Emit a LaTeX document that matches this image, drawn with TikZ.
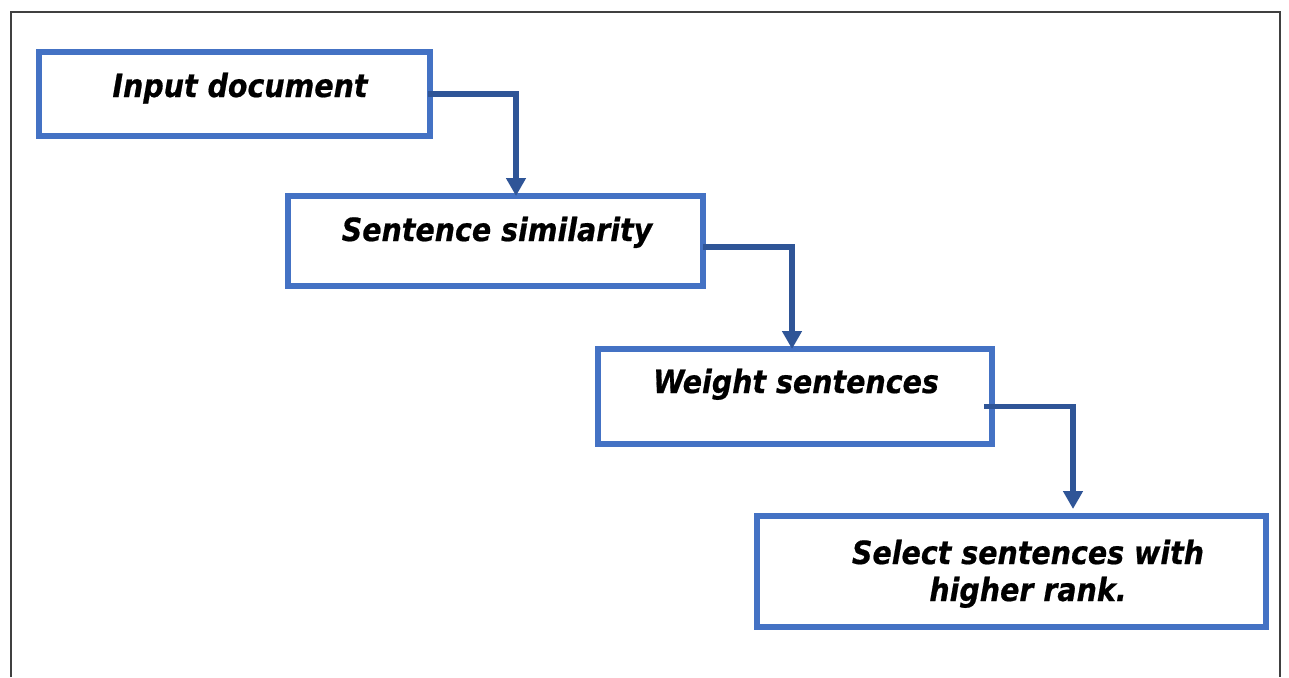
\documentclass[tikz,border=0pt]{standalone}
\usepackage{fontspec}
\setmainfont{DejaVu Sans}
\newfontfamily\labelfont{DejaVu Sans}[FakeStretch=0.89, FakeBold=0.6]
\usetikzlibrary{arrows.meta,calc}
\definecolor{boxblue}{HTML}{4472C4}
\definecolor{arrowblue}{HTML}{2F5597}
\definecolor{framegray}{HTML}{404040}
\tikzset{
  stepbox/.style={draw=boxblue, line width=6.5pt, fill=white, rectangle,
    outer sep=0pt, inner sep=0pt, anchor=north west},
  steptext/.style={anchor=base, font=\labelfont\fontsize{32}{37}\selectfont\bfseries\itshape,
    text=black, inner sep=0pt, align=center},
  flow/.style={draw=arrowblue, line width=5.5pt,
    -{Triangle[length=18pt,width=19pt]}},
  frameline/.style={draw=framegray, line width=2pt}
}
\begin{document}
\begin{tikzpicture}[x=1pt,y=-1pt]
  \useasboundingbox (0,0) rectangle (1289,677);
  % outer frame (open at the bottom)
  \coordinate (fbl) at (10.5,677);
  \coordinate (ftl) at (10.5,12);
  \coordinate (ftr) at (1280,12);
  \coordinate (fbr) at (1280,677);
  \draw[frameline] (fbl) -- (ftl) -- (ftr) -- (fbr);

  % process boxes
  \node[stepbox, minimum width=391pt, minimum height=84pt] (b1) at (39,52) {};
  \node[stepbox, minimum width=415pt, minimum height=90pt] (b2) at (288,196) {};
  \node[stepbox, minimum width=394pt, minimum height=95pt] (b3) at (598,349) {};
  \node[stepbox, minimum width=509pt, minimum height=111pt] (b4) at (757,516) {};

  % labels
  \node[steptext] (t1) at ($(b1.north west)+(201,45)$) {Input document};
  \node[steptext] (t2) at ($(b2.north west)+(209,45)$) {Sentence similarity};
  \node[steptext] (t3) at ($(b3.north west)+(198,44)$) {Weight sentences};
  \node[steptext] (t4a) at ($(b4.north west)+(271,48)$) {Select sentences with};
  \node[steptext] (t4b) at ($(b4.north west)+(271,85)$) {higher rank.};

  % connectors
  \draw[flow] ($(b1.east)+(-2,0)$) -| ($(b2.north west)+(228,0)$);
  \draw[flow] ($(b2.east)+(0,6)$) -| ($(b3.north west)+(194,0)$);
  \draw[flow] ($(b3.east)+(-8,10)$) -| ($(b4.north west)+(316,-7)$);
\end{tikzpicture}
\end{document}
